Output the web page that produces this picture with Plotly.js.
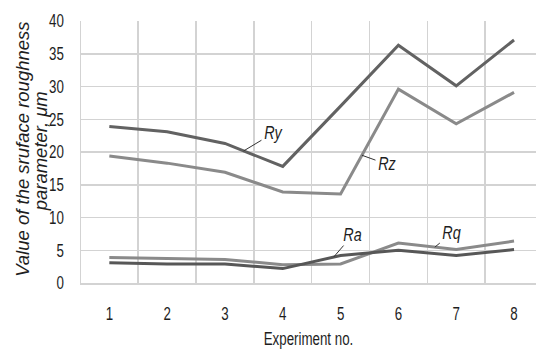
<!DOCTYPE html>
<html>
<head>
<meta charset="utf-8">
<script src="https://cdn.plot.ly/plotly-3.0.1.min.js"></script>
<style>html,body{margin:0;padding:0;background:#fff;}#chart{width:536px;height:352px;}</style>
</head>
<body>
<div id="chart"></div>
<script>
const experiments = [1, 2, 3, 4, 5, 6, 7, 8];
const Ry = [23.9, 23.1, 21.3, 17.8, 27.0, 36.3, 30.1, 37.1];
const Rz = [19.4, 18.3, 16.9, 13.9, 13.6, 29.6, 24.3, 29.1];
const Ra = [3.1, 2.9, 2.9, 2.2, 4.2, 5.0, 4.2, 5.1];
const Rq = [3.9, 3.7, 3.6, 2.8, 2.9, 6.1, 5.1, 6.4];
const xTickLabels = ['1', '2', '3', '4', '5', '6', '7', '8'];
const gridBetween = [1.5, 2.5, 3.5, 4.5, 5.5, 6.5, 7.5];
const yTitleLines = ['Value of the sruface roughness', 'parameter, μm'];

const sans = '"Liberation Sans", Arial, sans-serif';
const gridCol = '#d3d3d3';
const txtCol = '#1e1e1e';

const traces = [
  {x: experiments, y: Rz, name: 'Rz', mode: 'lines', line: {color: '#8a8a8a', width: 3}},
  {x: experiments, y: Ry, name: 'Ry', mode: 'lines', line: {color: '#626262', width: 3}},
  {x: experiments, y: Rq, name: 'Rq', mode: 'lines', line: {color: '#8a8a8a', width: 3}},
  {x: experiments, y: Ra, name: 'Ra', mode: 'lines', line: {color: '#575757', width: 3}}
];

function lbl(text, x, y, ax, ay) {
  return {x: x, y: y, xref: 'x', yref: 'y', text: text, showarrow: true, arrowhead: 0,
    arrowwidth: 1, arrowcolor: '#333', ax: ax, ay: ay, standoff: 0, startstandoff: 0,
    font: {family: sans, size: 18, color: txtCol}, borderpad: 0};
}
function ytitle(text, px, py) {
  return {xref: 'paper', yref: 'paper', x: (px - 81) / 455, y: (283.3 - py) / 262.3, text: '<i>' + text + '</i>',
    textangle: -90, showarrow: false, xanchor: 'center', yanchor: 'middle',
    font: {family: sans, size: 18.5, color: txtCol}};
}

const layout = {
  width: 536, height: 352,
  margin: {l: 81, r: 0, t: 21, b: 69},
  paper_bgcolor: '#fff', plot_bgcolor: '#fff',
  showlegend: false,
  xaxis: {
    range: [0.51, 8.38],
    tickvals: experiments, ticktext: xTickLabels,
    showgrid: false,
    minor: {tickvals: gridBetween, showgrid: true, gridcolor: gridCol, gridwidth: 1.5, ticks: ''},
    showline: true, linecolor: gridCol, linewidth: 1.5,
    ticks: 'outside', ticklen: 14, tickcolor: 'rgba(0,0,0,0)',
    tickfont: {family: sans, size: 18, color: txtCol},
    zeroline: false,
    title: {text: 'Experiment no.', font: {family: sans, size: 18, color: txtCol}, standoff: 9}
  },
  yaxis: {
    range: [0, 40], dtick: 5, tick0: 0,
    showgrid: true, gridcolor: gridCol, gridwidth: 1.5,
    showline: true, linecolor: gridCol, linewidth: 1.5,
    ticks: 'outside', ticklen: 12, tickcolor: 'rgba(0,0,0,0)',
    tickfont: {family: sans, size: 18, color: txtCol},
    zeroline: false
  },
  annotations: [
    lbl('<i>Ry</i>', 3.32, 20.15, 30, -18),
    lbl('<i>Rz</i>', 5.37, 19.5, 25, 9),
    lbl('<i>Ra</i>', 4.88, 3.96, 19, -22),
    lbl('<i>Rq</i>', 6.63, 5.47, 17, -14),
    ytitle(yTitleLines[0], 23, 150),
    ytitle(yTitleLines[1], 40.5, 152)
  ]
};

function squeeze(sel, k) {
  document.querySelectorAll(sel).forEach(function (t) {
    const len = t.getComputedTextLength();
    if (len > 0) {
      t.setAttribute('textLength', (len * k).toFixed(2));
      t.setAttribute('lengthAdjust', 'spacingAndGlyphs');
    }
  });
}

Plotly.newPlot('chart', traces, layout, {staticPlot: true, displayModeBar: false}).then(function () {
  squeeze('.xtick text, .ytick text, .g-xtitle text', 0.74);
  document.querySelectorAll('.annotation').forEach(function (a, i) {
    if (i < 4) {
      a.querySelectorAll('text.annotation-text').forEach(function (t) {
        const len = t.getComputedTextLength();
        t.setAttribute('textLength', (len * 0.8).toFixed(2));
        t.setAttribute('lengthAdjust', 'spacingAndGlyphs');
      });
    }
  });
});
</script>
</body>
</html>
